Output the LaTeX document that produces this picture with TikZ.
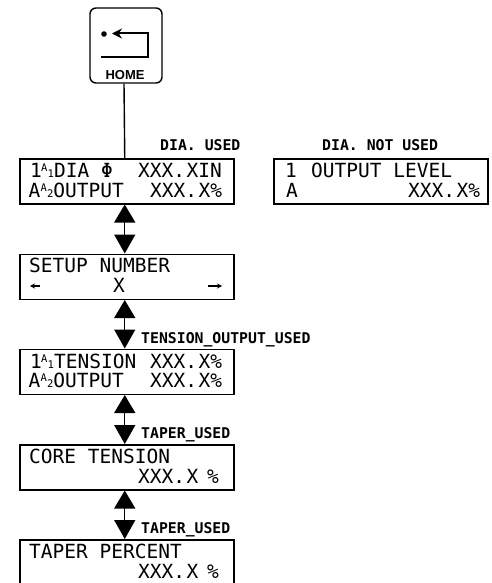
\documentclass[tikz,border=0pt]{standalone}
\usepackage{fontspec}
\setmainfont{DejaVu Sans Mono}
\newfontfamily\valfont[WordSpace=0.12]{DejaVu Sans Mono}
\newfontfamily\homefont{Liberation Sans}
\usetikzlibrary{arrows.meta}
\tikzset{
  disp/.style={draw=black,line width=1.5pt,minimum width=214pt,minimum height=45pt,inner sep=0pt,anchor=north west},
  big/.style={anchor=base west,inner sep=0pt,font=\fontsize{19.5}{20}\selectfont},
  val/.style={anchor=base west,inner sep=0pt,font=\fontsize{19.5}{20}\selectfont\valfont},
  tiny/.style={anchor=base west,inner sep=0pt,font=\fontsize{10.5}{11}\selectfont},
  lab/.style={anchor=base west,inner sep=0pt,font=\fontsize{14.8}{15}\selectfont\bfseries},
  link/.style={line width=1.4pt,{Triangle[length=18pt,width=21pt]}-{Triangle[length=19pt,width=21pt]}},
  plain/.style={line width=1.4pt},
  glyph/.style={line width=2pt},
  small arrow/.style={line width=1.3pt,-{Stealth[length=5pt,width=5pt]}}
}
\begin{document}
\begin{tikzpicture}[x=1pt,y=-1pt]
\useasboundingbox (0,0) rectangle (492,583);
\fill[white] (0,0) rectangle (492,583);
% home key
\node[draw=black,line width=1.4pt,rounded corners=6pt,minimum width=72pt,minimum height=75pt,inner sep=0pt] (home) at (126,45.5) {};
\node[inner sep=0pt,font=\fontsize{13}{13}\selectfont\homefont\bfseries] (hometext) at (125,75) {HOME};
\coordinate (gDot) at (104,34);
\coordinate (gTip) at (112,33.5);
\coordinate (gA) at (148,33.5);
\coordinate (gB) at (148,57);
\coordinate (gC) at (101,57);
\fill (gDot) circle (2.8pt);
\draw[glyph,{Stealth[length=10pt,width=10pt]}-] (gTip) -- (gA) -- (gB) -- (gC);
% display boxes
\node[disp] (dia) at (19,158) {};
\node[disp] (out) at (273,158) {};
\node[disp] (setup) at (19,253.5) {};
\node[disp] (tens) at (19,348.5) {};
\node[disp] (core) at (19,444) {};
\node[disp] (taper) at (19,539) {};
% connectors
\draw[plain] ([xshift=-2pt]home.south) -- ([xshift=-2pt]dia.north);
\draw[link] ([xshift=-2pt]dia.south) -- ([xshift=-2pt]setup.north);
\draw[link] ([xshift=-2pt]setup.south) -- ([xshift=-2pt]tens.north);
\draw[link] ([xshift=-2pt]tens.south) -- ([xshift=-2pt]core.north);
\draw[link] ([xshift=-2pt]core.south) -- ([xshift=-2pt]taper.north);
% labels
\node[lab] at (160,150) {DIA. USED};
\node[lab] at (322,150) {DIA. NOT USED};
\node[lab] at (141,343) {TENSION\_OUTPUT\_USED};
\node[lab] at (141,438) {TAPER\_USED};
\node[lab] at (141,533) {TAPER\_USED};
% dia box
\node[big] at (30,177) {1};
\node[tiny] at (41,171) {A};
\node[tiny] at (47.4,177) {1};
\node[big] at (54,177) {DIA};
\node[big] at (101,177) {Φ};
\node[val] at (138,177) {XXX. XIN};
\node[big] at (28.5,197) {A};
\node[tiny] at (40.5,191) {A};
\node[tiny] at (46.8,197) {2};
\node[big] at (53.2,197) {OUTPUT};
\node[val] at (150,197) {XXX. X\%};
% output level box
\node[big] at (285,177) {1};
\node[big] at (311,177) {OUTPUT LEVEL};
\node[big] at (286,197) {A};
\node[val] at (408,197) {XXX. X\%};
% setup box
\node[big] at (29,272) {SETUP NUMBER};
\node[big] at (113,292) {X};
\coordinate (lA) at (40,286);
\coordinate (lB) at (30,286);
\coordinate (rA) at (208,286);
\coordinate (rB) at (222,286);
\draw[small arrow] (lA) -- (lB);
\draw[small arrow] (rA) -- (rB);
% tension box
\node[big] at (30,368) {1};
\node[tiny] at (41,362) {A};
\node[tiny] at (47.4,368) {1};
\node[big] at (54,368) {TENSION};
\node[val] at (150,368) {XXX. X\%};
\node[big] at (28.5,387) {A};
\node[tiny] at (40.5,381) {A};
\node[tiny] at (46.8,387) {2};
\node[big] at (53.2,387) {OUTPUT};
\node[val] at (150,387) {XXX. X\%};
% core box
\node[big] at (29,463) {CORE TENSION};
\node[val] at (138,483) {XXX. X};
\node[big] at (207,483) {\%};
% taper box
\node[big] at (29,558) {TAPER PERCENT};
\node[val] at (138,578) {XXX. X};
\node[big] at (207,578) {\%};
\end{tikzpicture}
\end{document}
